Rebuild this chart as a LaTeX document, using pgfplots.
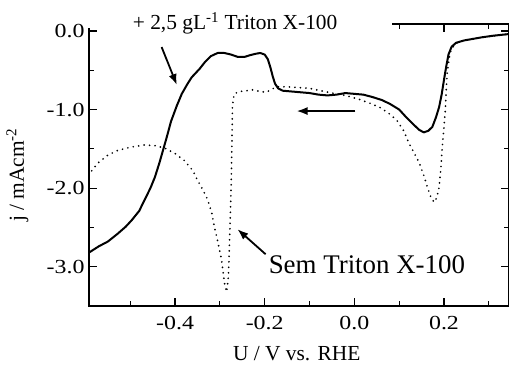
\documentclass[border=0pt]{standalone}
\usepackage{graphicx}
\usepackage{fontspec}
\setmainfont{Liberation Serif}
\usepackage{pgfplots}
\pgfplotsset{compat=1.18}
\usetikzlibrary{arrows.meta}

% tick labels are set slightly widened
\newcommand{\tk}[1]{\scalebox{1.2}[1]{#1}}

% j / mA cm^-2 versus U / V vs. RHE, with 2,5 g/L Triton X-100
\pgfplotstableread{
x y
-0.592 -2.82
-0.570 -2.74
-0.550 -2.68
-0.528 -2.58
-0.510 -2.49
-0.497 -2.41
-0.480 -2.29
-0.468 -2.15
-0.455 -2.00
-0.445 -1.86
-0.435 -1.68
-0.427 -1.52
-0.418 -1.34
-0.409 -1.15
-0.396 -0.95
-0.385 -0.80
-0.373 -0.68
-0.363 -0.59
-0.345 -0.48
-0.334 -0.40
-0.320 -0.32
-0.305 -0.28
-0.290 -0.28
-0.275 -0.30
-0.260 -0.33
-0.245 -0.33
-0.234 -0.31
-0.220 -0.29
-0.210 -0.28
-0.200 -0.30
-0.193 -0.36
-0.187 -0.47
-0.182 -0.58
-0.177 -0.67
-0.170 -0.73
-0.160 -0.76
-0.140 -0.77
-0.120 -0.78
-0.100 -0.79
-0.080 -0.81
-0.060 -0.82
-0.040 -0.81
-0.020 -0.79
0.000 -0.80
0.020 -0.81
0.040 -0.84
0.062 -0.88
0.080 -0.93
0.100 -1.00
0.116 -1.10
0.130 -1.18
0.145 -1.26
0.155 -1.29
0.165 -1.27
0.174 -1.22
0.182 -1.10
0.189 -0.97
0.195 -0.80
0.200 -0.62
0.205 -0.45
0.210 -0.30
0.217 -0.20
0.227 -0.15
0.245 -0.12
0.265 -0.10
0.285 -0.08
0.310 -0.06
0.343 -0.04
}\withtriton

% without Triton X-100
\pgfplotstableread{
x y
-0.592 -1.84
-0.586 -1.78
-0.572 -1.68
-0.550 -1.58
-0.528 -1.52
-0.500 -1.48
-0.468 -1.45
-0.445 -1.46
-0.423 -1.49
-0.400 -1.56
-0.379 -1.65
-0.360 -1.78
-0.350 -1.90
-0.338 -2.02
-0.327 -2.15
-0.318 -2.32
-0.312 -2.50
-0.304 -2.70
-0.296 -2.92
-0.290 -3.20
-0.285 -3.32
-0.281 -3.13
-0.278 -2.60
-0.275 -2.00
-0.273 -1.40
-0.272 -0.95
-0.268 -0.80
-0.256 -0.77
-0.240 -0.76
-0.227 -0.75
-0.210 -0.77
-0.196 -0.78
-0.185 -0.74
-0.170 -0.71
-0.151 -0.71
-0.125 -0.72
-0.100 -0.73
-0.075 -0.76
-0.049 -0.79
-0.020 -0.82
0.011 -0.87
0.035 -0.92
0.056 -0.97
0.075 -1.04
0.094 -1.13
0.110 -1.27
0.122 -1.43
0.135 -1.57
0.145 -1.68
0.155 -1.84
0.163 -1.99
0.171 -2.12
0.178 -2.18
0.184 -2.12
0.189 -1.99
0.193 -1.75
0.196 -1.48
0.200 -1.22
0.203 -1.00
0.205 -0.75
0.207 -0.54
0.211 -0.36
0.216 -0.24
0.225 -0.16
0.245 -0.12
0.285 -0.08
0.343 -0.04
}\semtriton

\begin{document}
\begin{tikzpicture}
\useasboundingbox (0,0) rectangle (509bp,365bp);
\begin{axis}[
  name=ax, at={(89bp,59bp)}, anchor=south west,
  scale only axis, width=420bp, height=282bp,
  xmin=-0.592, xmax=0.345, ymin=-3.5, ymax=0.089,
  clip=false,
  axis line style={line width=1.2bp},
  every tick/.style={black, line width=1.2bp},
  tick align=inside,
  major tick length=8bp, minor tick length=5bp,
  xtick={-0.4,-0.2,0,0.2},
  xticklabels={\tk{-0.4},\tk{-0.2},\tk{0.0},\tk{0.2}},
  minor xtick={-0.5,-0.3,-0.1,0.1,0.3},
  ytick={-3,-2,-1,0},
  yticklabels={\tk{-3.0},\tk{-2.0},\tk{-1.0},\tk{0.0}},
  minor ytick={-2.5,-1.5,-0.5},
  ticklabel style={font=\fontsize{20}{22}\selectfont},
  xticklabel style={yshift=-7bp},
  yticklabel style={xshift=-1bp},
  xlabel={U / V vs. RHE},
  ylabel={j / mAcm\textsuperscript{-2}},
  label style={font=\fontsize{21.5}{24}\selectfont},
  xlabel style={at={(axis description cs:0.4945,-0.195)}, anchor=base},
  ylabel style={at={(axis description cs:-0.155,0.4645)}, anchor=base},
]
\addplot[black, line width=2bp, line join=round] table[x=x,y=y] {\withtriton};
\addplot[black, line width=1.9bp, line cap=round, dash pattern=on 0pt off 5.5bp] table[x=x,y=y] {\semtriton};
\coordinate (mA) at (axis cs:-0.597,0.040);
\coordinate (mB) at (axis cs:0.083,0.16);
\coordinate (mC) at (axis cs:-0.56,-0.03);
\coordinate (a1t) at (axis cs:-0.430,-0.204);
\coordinate (a1h) at (axis cs:-0.396,-0.688);
\coordinate (a2t) at (axis cs:0.002,-1.019);
\coordinate (a2h) at (axis cs:-0.129,-1.019);
\coordinate (a3t) at (axis cs:-0.198,-2.841);
\coordinate (a3h) at (axis cs:-0.261,-2.522);
\coordinate (t1) at (axis cs:-0.266,0.0127);
\coordinate (t2) at (axis cs:0.028,-3.083);
\end{axis}
% frame only partly drawn at the top
\fill[white] (mA) rectangle (mB);
\fill[white] (mC) rectangle (mB);
\node[anchor=base, inner sep=0pt, font=\fontsize{21.5}{24}\selectfont] at (t1) {+ 2,5 gL\textsuperscript{-1} Triton X-100};
\node[anchor=base, inner sep=0pt, font=\fontsize{27}{30}\selectfont] at (t2) {Sem Triton X-100};
\draw[line width=1.8bp, -{Latex[length=11bp,width=8bp]}] (a1t) -- (a1h);
\draw[line width=1.8bp, -{Latex[length=11bp,width=8bp]}] (a2t) -- (a2h);
\draw[line width=1.8bp, -{Latex[length=11bp,width=8bp]}] (a3t) -- (a3h);
\end{tikzpicture}
\end{document}
